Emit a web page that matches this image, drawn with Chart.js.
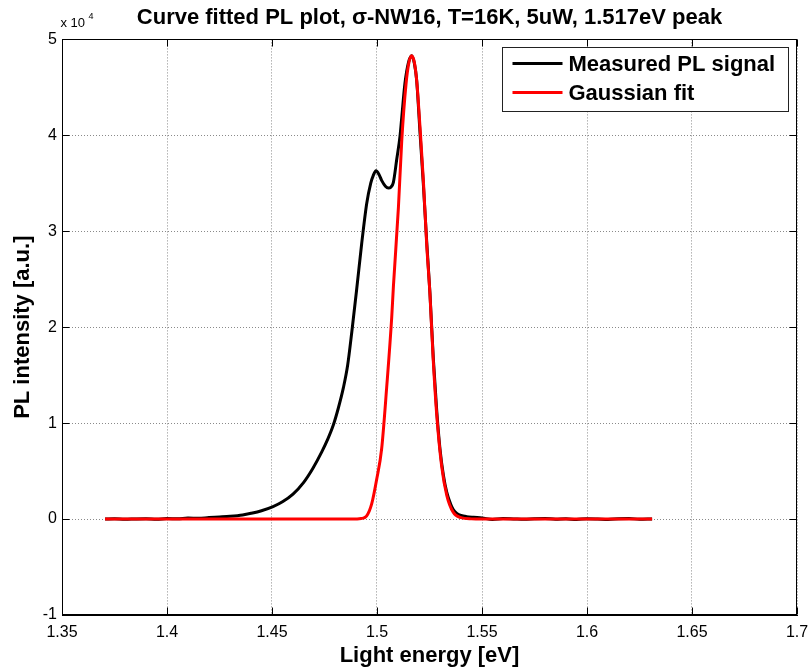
<!DOCTYPE html>
<html>
<head>
<meta charset="utf-8">
<script src="https://cdn.jsdelivr.net/npm/chart.js@4.4.1/dist/chart.umd.min.js"></script>
<style>
  html, body { margin: 0; padding: 0; background: #fff; }
</style>
</head>
<body>
<canvas id="pl-chart" width="809" height="670"></canvas>
<script>
// Measured PL signal (energy in eV, counts)
const measuredE = [
  1.3705, 1.375, 1.38, 1.385, 1.39, 1.395, 1.40, 1.405, 1.41, 1.415,
  1.42, 1.425, 1.43, 1.436, 1.44, 1.445, 1.4505, 1.455, 1.46, 1.465,
  1.4695, 1.4737, 1.4765, 1.4792, 1.4815, 1.484, 1.486, 1.488, 1.4903, 1.4927,
  1.4951, 1.497, 1.4982, 1.4995, 1.501, 1.5022, 1.504, 1.5054, 1.5066, 1.5078,
  1.5094, 1.511, 1.5118, 1.5133, 1.515, 1.5165, 1.5178, 1.5189, 1.5205, 1.5221,
  1.5237, 1.5252, 1.5268, 1.5284, 1.530, 1.5316, 1.5332, 1.535, 1.5363, 1.538,
  1.540, 1.5427, 1.546, 1.55, 1.555, 1.56, 1.565, 1.57, 1.575, 1.58,
  1.585, 1.59, 1.595, 1.60, 1.605, 1.61, 1.615, 1.62, 1.625, 1.631
]
const measuredI = [
  0, 20, -30, 15, 40, -20, 50, 30, 100, 80,
  160, 220, 290, 430, 600, 870, 1300, 1800, 2600, 3800,
  5300, 7000, 8300, 9800, 11500, 13700, 16000, 19500, 23900, 28700,
  32900, 35000, 35800, 36300, 35900, 35300, 34700, 34500, 34600, 35100,
  37500, 40000, 41900, 45400, 47600, 48300, 47500, 45700, 40200, 34800,
  28800, 23600, 16800, 11400, 7300, 4600, 2800, 1600, 1000, 600,
  380, 250, 180, 120, -40, 50, 15, -25, 30, 60,
  -15, 25, -45, 40, 10, -40, 25, 55, -15, 15
]

// Gaussian fit (energy in eV, counts)
const fitE = [
  1.3705, 1.40, 1.43, 1.46, 1.48, 1.488, 1.4925, 1.495, 1.4975, 1.4999,
  1.5022, 1.5046, 1.507, 1.5078, 1.5102, 1.5118, 1.5138, 1.5152, 1.5165, 1.5178,
  1.5189, 1.5205, 1.5221, 1.5237, 1.5252, 1.5268, 1.5284, 1.5308, 1.5332, 1.5363,
  1.540, 1.545, 1.55, 1.58, 1.60, 1.631
]
const fitI = [
  0, 0, 0, 0, 0, 0, 60, 300, 1600, 4200,
  7300, 13700, 21000, 24200, 32500, 39500, 45300, 47600, 48300, 47600,
  45700, 40800, 35200, 28500, 23500, 16500, 11000, 5500, 2500, 700,
  150, 20, 0, 0, 0, 0
]

const xTicks = { min: 1.35, max: 1.7, step: 0.05 }
const yTicks = { min: -10000, max: 50000, step: 10000 }

const FONT = "'Liberation Sans', Arial, Helvetica, sans-serif"
Chart.defaults.font.family = FONT
Chart.defaults.color = '#000'

function pares(xs, ys) {
  return xs.map((x, i) => ({ x, y: ys[i] }))
}

// caixa do eixo (estilo MATLAB) + ticks para dentro + multiplicador
const moldura = {
  id: 'moldura',
  afterDraw(chart) {
    const { ctx, chartArea: a, scales } = chart
    const L = Math.round(a.left) + 0.5
    const R = Math.round(a.right) - 0.5
    const T = Math.round(a.top) + 0.5
    const B = Math.round(a.bottom) - 0.5
    ctx.save()
    ctx.strokeStyle = '#000'
    ctx.lineWidth = 1
    ctx.strokeRect(L, T, R - L, B - T)

    const tam = 7
    ctx.beginPath()
    scales.x.ticks.forEach(t => {
      const px = Math.round(scales.x.getPixelForValue(t.value)) + 0.5
      ctx.moveTo(px, B); ctx.lineTo(px, B - tam)
      ctx.moveTo(px, T); ctx.lineTo(px, T + tam)
    })
    scales.y.ticks.forEach(t => {
      const py = Math.round(scales.y.getPixelForValue(t.value)) + 0.5
      ctx.moveTo(L, py); ctx.lineTo(L + tam, py)
      ctx.moveTo(R, py); ctx.lineTo(R - tam, py)
    })
    ctx.stroke()

    // x 10^4
    ctx.fillStyle = '#000'
    ctx.textBaseline = 'alphabetic'
    ctx.font = `13px ${FONT}`
    ctx.fillText('x 10', L - 2, T - 13)
    ctx.font = `9px ${FONT}`
    ctx.fillText('4', L + 26, T - 21)
    ctx.restore()
  }
}

// legenda com caixa dentro do gráfico
const legendaCaixa = {
  id: 'legendaCaixa',
  afterDraw(chart) {
    const { ctx, chartArea: a } = chart
    const w = 286, h = 64
    const x0 = Math.round(a.right - 9 - w) + 0.5
    const y0 = Math.round(a.top + 8) + 0.5
    ctx.save()
    ctx.fillStyle = '#fff'
    ctx.fillRect(x0, y0, w, h)
    ctx.strokeStyle = '#222'
    ctx.lineWidth = 1
    ctx.strokeRect(x0, y0, w, h)
    ctx.font = `bold 22px ${FONT}`
    ctx.textBaseline = 'middle'
    chart.data.datasets.forEach((ds, i) => {
      const yy = y0 + 16 + i * 29
      ctx.strokeStyle = ds.borderColor
      ctx.lineWidth = 3
      ctx.beginPath()
      ctx.moveTo(x0 + 10, yy)
      ctx.lineTo(x0 + 60, yy)
      ctx.stroke()
      ctx.fillStyle = '#000'
      ctx.fillText(ds.label, x0 + 66, yy + 1)
    })
    ctx.restore()
  }
}

new Chart(document.getElementById('pl-chart'), {
  type: 'line',
  data: {
    datasets: [
      {
        label: 'Measured PL signal',
        data: pares(measuredE, measuredI),
        borderColor: '#000000',
        borderWidth: 3,
        pointRadius: 0,
        cubicInterpolationMode: 'monotone',
        order: 1
      },
      {
        label: 'Gaussian fit',
        data: pares(fitE, fitI),
        borderColor: '#ff0000',
        borderWidth: 3,
        pointRadius: 0,
        cubicInterpolationMode: 'monotone',
        order: 0
      }
    ]
  },
  options: {
    responsive: false,
    animation: false,
    layout: { padding: { left: 0, right: 0, top: 0, bottom: 0 } },
    plugins: {
      legend: { display: false },
      tooltip: { enabled: false },
      title: {
        display: true,
        fullSize: false,
        text: 'Curve fitted PL plot, σ-NW16, T=16K, 5uW, 1.517eV peak',
        color: '#000',
        font: { size: 22, weight: 'bold' },
        padding: { top: 5, bottom: 8 }
      }
    },
    scales: {
      x: {
        type: 'linear',
        min: xTicks.min,
        max: xTicks.max,
        ticks: {
          stepSize: xTicks.step,
          autoSkip: false,
          maxRotation: 0,
          padding: 8,
          color: '#000',
          font: { size: 16 },
          callback: v => String(Number(v.toFixed(2)))
        },
        grid: { color: '#8a8a8a', lineWidth: 1, drawTicks: false },
        border: { color: '#000', dash: [1, 2] },
        title: {
          display: true,
          text: 'Light energy [eV]',
          color: '#000',
          font: { size: 22, weight: 'bold' },
          padding: { top: 2, bottom: 1 }
        },
        afterFit: s => { s.height = 55; s.paddingRight = 12; s.paddingLeft = 0 }
      },
      y: {
        min: yTicks.min,
        max: yTicks.max,
        ticks: {
          stepSize: yTicks.step,
          padding: 5,
          color: '#000',
          font: { size: 16 },
          callback: v => String(v / 1e4)
        },
        grid: { color: '#8a8a8a', lineWidth: 1, drawTicks: false },
        border: { color: '#000', dash: [1, 2] },
        title: {
          display: true,
          text: 'PL intensity [a.u.]',
          color: '#000',
          font: { size: 22, weight: 'bold' },
          padding: { top: 10, bottom: 0 }
        },
        afterFit: s => { s.width = 62 }
      }
    }
  },
  plugins: [moldura, legendaCaixa]
})
</script>
</body>
</html>
